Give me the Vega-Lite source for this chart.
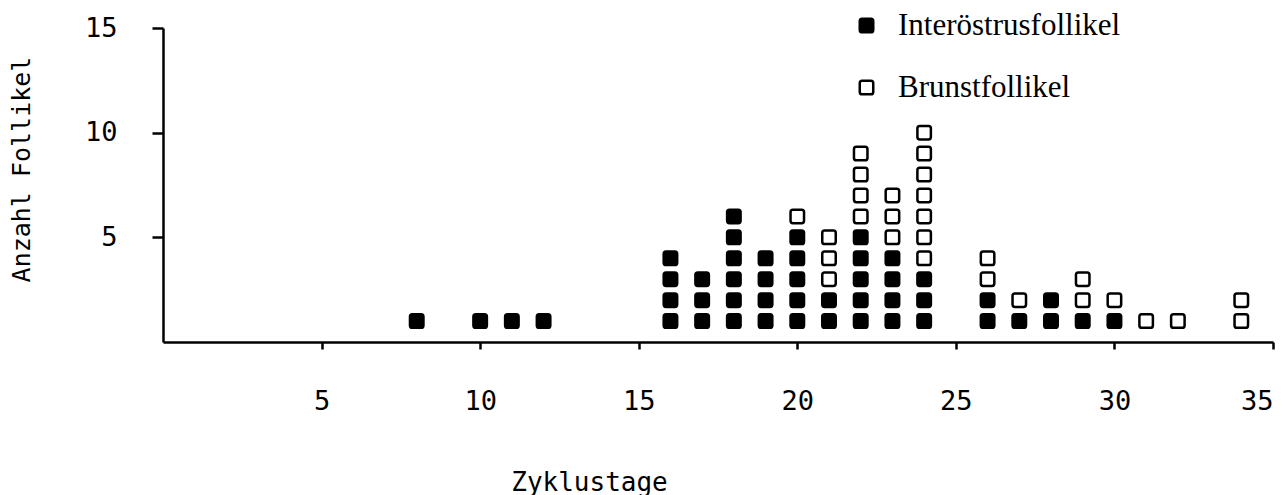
{
  "$schema": "https://vega.github.io/schema/vega-lite/v6.json",
  "width": 1110,
  "height": 314,
  "autosize": {"type": "none"},
  "padding": {"left": 163, "top": 28, "right": 10, "bottom": 153},
  "background": "white",
  "config": {
    "view": {"stroke": null},
    "axis": {
      "grid": false,
      "domainColor": "black",
      "domainWidth": 2.5,
      "tickColor": "black",
      "tickWidth": 2.5,
      "labelFont": "DejaVu Sans Mono",
      "labelFontSize": 27,
      "labelColor": "black",
      "titleFont": "DejaVu Sans Mono",
      "titleFontWeight": "normal",
      "titleColor": "black"
    }
  },
  "data": {
    "values": [
      {"tag": 8, "anzahl": 1, "typ": "Interöstrusfollikel"},
      {"tag": 10, "anzahl": 1, "typ": "Interöstrusfollikel"},
      {"tag": 11, "anzahl": 1, "typ": "Interöstrusfollikel"},
      {"tag": 12, "anzahl": 1, "typ": "Interöstrusfollikel"},
      {"tag": 16, "anzahl": 1, "typ": "Interöstrusfollikel"},
      {"tag": 16, "anzahl": 2, "typ": "Interöstrusfollikel"},
      {"tag": 16, "anzahl": 3, "typ": "Interöstrusfollikel"},
      {"tag": 16, "anzahl": 4, "typ": "Interöstrusfollikel"},
      {"tag": 17, "anzahl": 1, "typ": "Interöstrusfollikel"},
      {"tag": 17, "anzahl": 2, "typ": "Interöstrusfollikel"},
      {"tag": 17, "anzahl": 3, "typ": "Interöstrusfollikel"},
      {"tag": 18, "anzahl": 1, "typ": "Interöstrusfollikel"},
      {"tag": 18, "anzahl": 2, "typ": "Interöstrusfollikel"},
      {"tag": 18, "anzahl": 3, "typ": "Interöstrusfollikel"},
      {"tag": 18, "anzahl": 4, "typ": "Interöstrusfollikel"},
      {"tag": 18, "anzahl": 5, "typ": "Interöstrusfollikel"},
      {"tag": 18, "anzahl": 6, "typ": "Interöstrusfollikel"},
      {"tag": 19, "anzahl": 1, "typ": "Interöstrusfollikel"},
      {"tag": 19, "anzahl": 2, "typ": "Interöstrusfollikel"},
      {"tag": 19, "anzahl": 3, "typ": "Interöstrusfollikel"},
      {"tag": 19, "anzahl": 4, "typ": "Interöstrusfollikel"},
      {"tag": 20, "anzahl": 1, "typ": "Interöstrusfollikel"},
      {"tag": 20, "anzahl": 2, "typ": "Interöstrusfollikel"},
      {"tag": 20, "anzahl": 3, "typ": "Interöstrusfollikel"},
      {"tag": 20, "anzahl": 4, "typ": "Interöstrusfollikel"},
      {"tag": 20, "anzahl": 5, "typ": "Interöstrusfollikel"},
      {"tag": 20, "anzahl": 6, "typ": "Brunstfollikel"},
      {"tag": 21, "anzahl": 1, "typ": "Interöstrusfollikel"},
      {"tag": 21, "anzahl": 2, "typ": "Interöstrusfollikel"},
      {"tag": 21, "anzahl": 3, "typ": "Brunstfollikel"},
      {"tag": 21, "anzahl": 4, "typ": "Brunstfollikel"},
      {"tag": 21, "anzahl": 5, "typ": "Brunstfollikel"},
      {"tag": 22, "anzahl": 1, "typ": "Interöstrusfollikel"},
      {"tag": 22, "anzahl": 2, "typ": "Interöstrusfollikel"},
      {"tag": 22, "anzahl": 3, "typ": "Interöstrusfollikel"},
      {"tag": 22, "anzahl": 4, "typ": "Interöstrusfollikel"},
      {"tag": 22, "anzahl": 5, "typ": "Interöstrusfollikel"},
      {"tag": 22, "anzahl": 6, "typ": "Brunstfollikel"},
      {"tag": 22, "anzahl": 7, "typ": "Brunstfollikel"},
      {"tag": 22, "anzahl": 8, "typ": "Brunstfollikel"},
      {"tag": 22, "anzahl": 9, "typ": "Brunstfollikel"},
      {"tag": 23, "anzahl": 1, "typ": "Interöstrusfollikel"},
      {"tag": 23, "anzahl": 2, "typ": "Interöstrusfollikel"},
      {"tag": 23, "anzahl": 3, "typ": "Interöstrusfollikel"},
      {"tag": 23, "anzahl": 4, "typ": "Interöstrusfollikel"},
      {"tag": 23, "anzahl": 5, "typ": "Brunstfollikel"},
      {"tag": 23, "anzahl": 6, "typ": "Brunstfollikel"},
      {"tag": 23, "anzahl": 7, "typ": "Brunstfollikel"},
      {"tag": 24, "anzahl": 1, "typ": "Interöstrusfollikel"},
      {"tag": 24, "anzahl": 2, "typ": "Interöstrusfollikel"},
      {"tag": 24, "anzahl": 3, "typ": "Interöstrusfollikel"},
      {"tag": 24, "anzahl": 4, "typ": "Brunstfollikel"},
      {"tag": 24, "anzahl": 5, "typ": "Brunstfollikel"},
      {"tag": 24, "anzahl": 6, "typ": "Brunstfollikel"},
      {"tag": 24, "anzahl": 7, "typ": "Brunstfollikel"},
      {"tag": 24, "anzahl": 8, "typ": "Brunstfollikel"},
      {"tag": 24, "anzahl": 9, "typ": "Brunstfollikel"},
      {"tag": 24, "anzahl": 10, "typ": "Brunstfollikel"},
      {"tag": 26, "anzahl": 1, "typ": "Interöstrusfollikel"},
      {"tag": 26, "anzahl": 2, "typ": "Interöstrusfollikel"},
      {"tag": 26, "anzahl": 3, "typ": "Brunstfollikel"},
      {"tag": 26, "anzahl": 4, "typ": "Brunstfollikel"},
      {"tag": 27, "anzahl": 1, "typ": "Interöstrusfollikel"},
      {"tag": 27, "anzahl": 2, "typ": "Brunstfollikel"},
      {"tag": 28, "anzahl": 1, "typ": "Interöstrusfollikel"},
      {"tag": 28, "anzahl": 2, "typ": "Interöstrusfollikel"},
      {"tag": 29, "anzahl": 1, "typ": "Interöstrusfollikel"},
      {"tag": 29, "anzahl": 2, "typ": "Brunstfollikel"},
      {"tag": 29, "anzahl": 3, "typ": "Brunstfollikel"},
      {"tag": 30, "anzahl": 1, "typ": "Interöstrusfollikel"},
      {"tag": 30, "anzahl": 2, "typ": "Brunstfollikel"},
      {"tag": 31, "anzahl": 1, "typ": "Brunstfollikel"},
      {"tag": 32, "anzahl": 1, "typ": "Brunstfollikel"},
      {"tag": 34, "anzahl": 1, "typ": "Brunstfollikel"},
      {"tag": 34, "anzahl": 2, "typ": "Brunstfollikel"}
    ]
  },
  "mark": {
    "type": "point",
    "filled": true,
    "opacity": 1,
    "stroke": "black",
    "strokeWidth": 2.5,
    "size": 182,
    "shape": "M-0.65,-1H0.65Q1,-1 1,-0.65V0.65Q1,1 0.65,1H-0.65Q-1,1 -1,0.65V-0.65Q-1,-1 -0.65,-1Z"
  },
  "encoding": {
    "x": {
      "field": "tag",
      "type": "quantitative",
      "scale": {"domain": [0, 35], "nice": false, "zero": true},
      "axis": {
        "values": [5, 10, 15, 20, 25, 30, 35],
        "tickSize": 7,
        "labelPadding": 52,
        "labelBaseline": "middle",
        "title": "Zyklustage",
        "titleFontSize": 26,
        "titleX": 426,
        "titleY": 148,
        "titleAnchor": null,
        "titleAlign": "center",
        "titleBaseline": "alphabetic"
      }
    },
    "y": {
      "field": "anzahl",
      "type": "quantitative",
      "scale": {"domain": [0, 15], "nice": false},
      "axis": {
        "values": [5, 10, 15],
        "tickSize": 11,
        "labelPadding": 35,
        "title": "Anzahl Follikel",
        "titleFontSize": 25,
        "titleAngle": -90,
        "titleX": -142,
        "titleY": 141,
        "titleAlign": "center",
        "titleBaseline": "middle"
      }
    },
    "fill": {
      "field": "typ",
      "type": "nominal",
      "scale": {"domain": ["Interöstrusfollikel", "Brunstfollikel"], "range": ["black", "white"]},
      "legend": {
        "orient": "none",
        "legendX": 688,
        "legendY": -18,
        "title": null,
        "symbolType": "M-0.65,-1H0.65Q1,-1 1,-0.65V0.65Q1,1 0.65,1H-0.65Q-1,1 -1,0.65V-0.65Q-1,-1 -0.65,-1Z",
        "symbolSize": 182,
        "symbolStrokeColor": "black",
        "symbolStrokeWidth": 2.5,
        "symbolOpacity": 1,
        "labelFont": "Liberation Serif",
        "labelFontSize": 31,
        "labelColor": "black",
        "labelOffset": 16,
        "rowPadding": 30,
        "labelLimit": 400
      }
    }
  }
}
